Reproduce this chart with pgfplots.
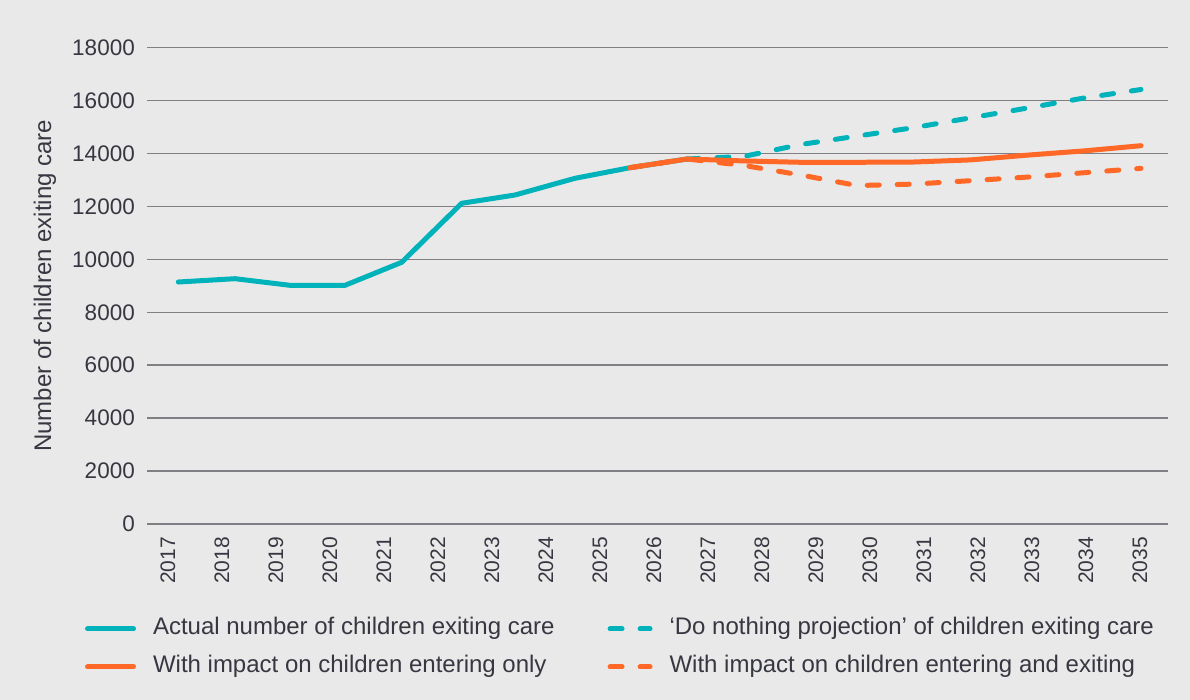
\documentclass[border=0pt]{standalone}
\usepackage{pgfplots}
\pgfplotsset{compat=1.18}
\usepackage{fontspec}
\setmainfont{Liberation Sans}
\definecolor{bg}{RGB}{233,233,233}
\definecolor{cteal}{RGB}{0,178,185}
\definecolor{corange}{RGB}{255,104,38}
\definecolor{cgrid}{RGB}{128,128,132}
\definecolor{ctxt}{RGB}{55,55,65}
\pgfplotsset{
  longimg/.style={legend image code/.code={\draw[##1] (0pt,0pt) -- (46pt,0pt);}},
  shortimg/.style={legend image code/.code={\draw[##1] (0pt,0pt) -- (40pt,0pt);}},
}
\begin{document}
\begin{tikzpicture}[x=1pt,y=1pt]
\fill[bg] (0,0) rectangle (1190,700);
\useasboundingbox (0,0) rectangle (1190,700);
\begin{axis}[
  at={(147pt,176pt)}, anchor=south west,
  scale only axis, width=1021pt, height=476.3pt,
  xmin=2016.611, xmax=2035.519, ymin=0, ymax=18000,
  axis line style={draw=none},
  xtick={2017,2018,...,2035},
  ytick={0,2000,...,18000},
  ymajorgrids, grid style={cgrid, line width=1.5pt},
  major tick length=0pt,
  scaled ticks=false,
  /pgf/number format/1000 sep={},
  /pgf/number format/assume math mode=true,
  x tick label style={font=\fontsize{21}{24}\selectfont, text=ctxt, rotate=90, anchor=east, inner sep=0pt, xshift=-13pt},
  y tick label style={font=\fontsize{22.5}{26}\selectfont, text=ctxt, anchor=east, inner sep=0pt, xshift=-12pt},
  ylabel={Number of children exiting care},
  every axis y label/.style={at={(axis description cs:-0.0999,0.5)}, rotate=90, anchor=center, font=\fontsize{24}{28}\selectfont, text=ctxt},
  legend columns=2,
  legend cell align=left,
  legend style={at={(axis description cs:-0.0607,-0.2603)}, anchor=west, draw=none, fill=none, inner sep=0pt, outer sep=0pt,
    font=\fontsize{24}{28}\selectfont, text=ctxt,
    nodes={inner sep=0pt, text height=17pt, text depth=5pt},
    row sep=16pt,
    /tikz/every odd column/.append style={column sep=17pt},
    /tikz/every even column/.append style={column sep=53pt}},
]
\addplot[longimg, cteal, line width=5pt, line join=round, line cap=round] coordinates {
  (2017.191,9145) (2018.241,9270) (2019.259,9020) (2020.278,9020) (2021.328,9890)
  (2022.439,12120) (2023.426,12433) (2024.537,13064) (2025.556,13465) (2026.611,13793)};
\addlegendentry{Actual number of children exiting care}
\addplot[shortimg, cteal, line width=5pt, line join=round, line cap=round, dash pattern=on 12pt off 18pt] coordinates {
  (2026.611,13793) (2027.662,13890) (2028.713,14340) (2029.764,14660) (2030.815,14980)
  (2031.866,15350) (2032.917,15720) (2033.968,16100) (2035.019,16420)};
\addlegendentry{‘Do nothing projection’ of children exiting care}
\addplot[longimg, corange, line width=5pt, line join=round, line cap=round] coordinates {
  (2025.556,13465) (2026.611,13793) (2027.662,13720) (2028.713,13669) (2029.764,13669)
  (2030.815,13680) (2031.866,13760) (2032.917,13940) (2033.968,14100) (2035.019,14296)};
\addlegendentry{With impact on children entering only}
\addplot[shortimg, corange, line width=5pt, line join=round, line cap=round, dash pattern=on 12pt off 18pt] coordinates {
  (2025.556,13465) (2026.611,13793) (2027.662,13550) (2028.713,13190) (2029.764,12790)
  (2030.815,12845) (2031.866,12975) (2032.917,13110) (2033.968,13275) (2035.019,13440)};
\addlegendentry{With impact on children entering and exiting}
\end{axis}
\end{tikzpicture}
\end{document}
